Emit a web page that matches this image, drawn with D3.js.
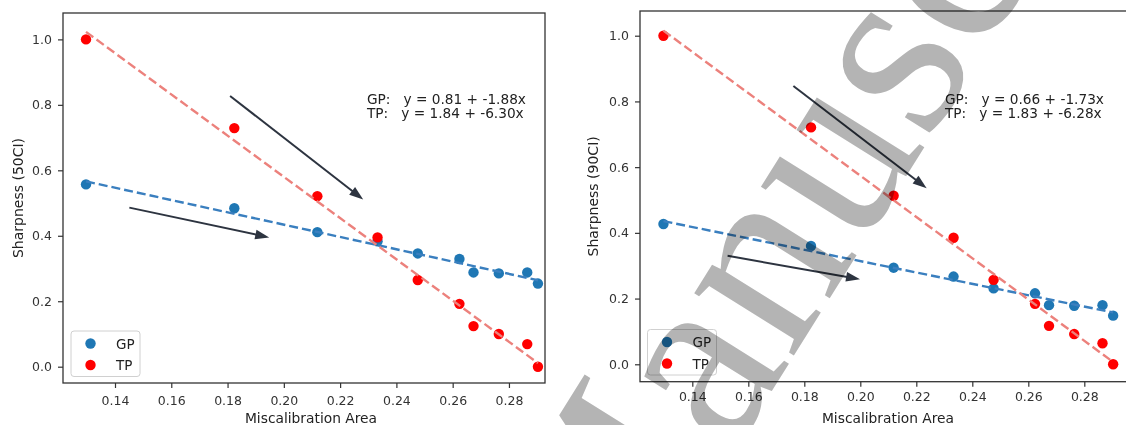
<!DOCTYPE html>
<html>
<head>
<meta charset="utf-8">
<script src="https://cdn.jsdelivr.net/npm/d3@7/dist/d3.min.js"></script>
<style>
  html, body { margin: 0; padding: 0; background: #ffffff; }
  svg { display: block; font-family: "DejaVu Sans", sans-serif; }
  .tick text { fill: #333; }
</style>
</head>
<body>
<svg id="chart" width="1126" height="425"></svg>
<script>
// ---------------- data ----------------
const missArea = [0.1297, 0.1824, 0.2119, 0.2333, 0.2476, 0.2624, 0.2674, 0.2764, 0.2865, 0.2903];
const gp50 = [0.557, 0.484, 0.411, 0.383, 0.346, 0.329, 0.288, 0.285, 0.288, 0.254];
const tp50 = [1.000, 0.729, 0.521, 0.395, 0.265, 0.192, 0.124, 0.100, 0.069, 0.000];
const gp90 = [0.427, 0.360, 0.294, 0.267, 0.231, 0.216, 0.180, 0.178, 0.180, 0.148];
const tp90 = [1.000, 0.721, 0.513, 0.385, 0.257, 0.184, 0.117, 0.092, 0.064, 0.000];
const fitGP50 = [0.81, -1.88];
const fitTP50 = [1.84, -6.30];
const fitGP90 = [0.66, -1.73];
const fitTP90 = [1.83, -6.28];
const eq50 = ["GP:   y = 0.81 + -1.88x", "TP:   y = 1.84 + -6.30x"];
const eq90 = ["GP:   y = 0.66 + -1.73x", "TP:   y = 1.83 + -6.28x"];
const arrows50 = [[0.1809, 0.827, 0.2282, 0.511], [0.1451, 0.486, 0.1948, 0.395]];
const arrows90 = [[0.1761, 0.847, 0.2237, 0.536], [0.1526, 0.330, 0.1999, 0.259]];
const xTicks = [0.14, 0.16, 0.18, 0.20, 0.22, 0.24, 0.26, 0.28];
const yTicks = [0.0, 0.2, 0.4, 0.6, 0.8, 1.0];
const seriesNames = ["GP", "TP"];
const yLabels = ["Sharpness (50CI)", "Sharpness (90CI)"];
const xLabel = "Miscalibration Area";
const watermark = "Manuscript";

// ---------------- style ----------------
const dotColors = {GP: "#1f77b4", TP: "#ff0000"};
const lineColors = {GP: "#3a7fbf", TP: "#ec817c"};
const arrowColor = "#2d3440";
const axisColor = "#333333";

const svg = d3.select("#chart");

function drawPanel(cfg) {
  const x = d3.scaleLinear().domain(cfg.xDom).range([cfg.left, cfg.right]);
  const y = d3.scaleLinear().domain(cfg.yDom).range([cfg.bottom, cfg.top]);
  const g = svg.append("g");

  // axes
  const xa = g.append("g").attr("transform", `translate(0,${cfg.bottom})`)
    .call(d3.axisBottom(x).tickValues(xTicks).tickFormat(d3.format(".2f")).tickSize(5).tickPadding(cfg.xPad));
  const ya = g.append("g").attr("transform", `translate(${cfg.left},0)`)
    .call(d3.axisLeft(y).tickValues(yTicks).tickFormat(d3.format(".1f")).tickSize(5).tickPadding(6));
  [xa, ya].forEach(a => {
    a.select(".domain").remove();
    a.selectAll(".tick line").attr("stroke", axisColor).attr("stroke-width", 1.2);
    a.selectAll(".tick text").attr("font-size", 12.5).attr("font-family", "DejaVu Sans");
  });

  // frame
  g.append("rect")
    .attr("x", cfg.left).attr("y", cfg.top)
    .attr("width", cfg.right - cfg.left).attr("height", cfg.bottom - cfg.top)
    .attr("fill", "none").attr("stroke", axisColor).attr("stroke-width", 1.3);

  // dots
  const series = {GP: cfg.gp, TP: cfg.tp};
  seriesNames.forEach(name => {
    g.append("g").selectAll("circle").data(missArea.map((a, i) => [a, series[name][i]]))
      .join("circle")
      .attr("cx", d => x(d[0])).attr("cy", d => y(d[1]))
      .attr("r", 5.2).attr("fill", dotColors[name]);
  });

  // fit lines
  const fits = {GP: cfg.fitGP, TP: cfg.fitTP};
  const xExt = d3.extent(missArea);
  seriesNames.forEach(name => {
    const f = fits[name];
    const pts = xExt.map(a => [a, f[0] + f[1] * a]);
    g.append("path")
      .attr("d", d3.line().x(d => x(d[0])).y(d => y(d[1]))(pts))
      .attr("fill", "none").attr("stroke", lineColors[name])
      .attr("stroke-width", 2.4).attr("stroke-dasharray", "9,4");
  });

  // arrows
  cfg.arrows.forEach(a => {
    const x1 = x(a[0]), y1 = y(a[1]), x2 = x(a[2]), y2 = y(a[3]);
    const len = Math.hypot(x2 - x1, y2 - y1);
    const ux = (x2 - x1) / len, uy = (y2 - y1) / len;
    const L = 14, hw = 4.8;
    const bx = x2 - ux * L, by = y2 - uy * L;
    g.append("line").attr("x1", x1).attr("y1", y1).attr("x2", bx + ux * 1).attr("y2", by + uy * 1)
      .attr("stroke", arrowColor).attr("stroke-width", 2);
    g.append("path")
      .attr("d", `M${x2},${y2}L${bx - uy * hw},${by + ux * hw}L${bx + uy * hw},${by - ux * hw}Z`)
      .attr("fill", arrowColor);
  });

  // equations
  cfg.eq.forEach((t, i) => {
    g.append("text").attr("x", cfg.eqX).attr("y", cfg.eqY + i * 14)
      .attr("font-size", 13.7).attr("fill", "#222").style("white-space", "pre")
      .text(t);
  });

  // legend
  const lg = g.append("g");
  lg.append("rect").attr("x", cfg.legX).attr("y", cfg.legY).attr("width", 69).attr("height", 45.5)
    .attr("rx", 3).attr("fill", "#ffffff").attr("fill-opacity", 0.85)
    .attr("stroke", "#d0d0d0").attr("stroke-width", 1);
  seriesNames.forEach((name, i) => {
    const cy = cfg.legY + 12.5 + i * 21.5;
    lg.append("circle").attr("cx", cfg.legX + 19.5).attr("cy", cy).attr("r", 5.2).attr("fill", dotColors[name]);
    lg.append("text").attr("x", cfg.legX + 45).attr("y", cy + 5)
      .attr("font-size", 13.5).attr("fill", "#222").text(name);
  });

  // axis labels
  svg.append("text").attr("x", cfg.xLabX).attr("y", 423)
    .attr("text-anchor", "middle").attr("font-size", 13.8).attr("fill", "#222").text(xLabel);
  svg.append("text").attr("transform", `translate(${cfg.yLabX},${(cfg.top + cfg.bottom) / 2}) rotate(-90)`)
    .attr("text-anchor", "middle").attr("dy", "0.35em")
    .attr("font-size", 14).attr("fill", "#222").text(cfg.yLabel);
}

drawPanel({
  left: 63, right: 545, top: 13, bottom: 383,
  xDom: [0.12152, 0.29281], yDom: [-0.0498, 1.0806],
  gp: gp50, tp: tp50, fitGP: fitGP50, fitTP: fitTP50,
  arrows: arrows50, eq: eq50, eqX: 367, eqY: 104,
  legX: 71, legY: 331, xLabX: 311, yLabX: 18, yLabel: yLabels[0], xPad: 8
});
drawPanel({
  left: 640, right: 1130, top: 11, bottom: 381.7,
  xDom: [0.12132, 0.29632], yDom: [-0.053, 1.0752],
  gp: gp90, tp: tp90, fitGP: fitGP90, fitTP: fitTP90,
  arrows: arrows90, eq: eq90, eqX: 945, eqY: 103.5,
  legX: 647.5, legY: 329.5, xLabX: 888, yLabX: 593, yLabel: yLabels[1], xPad: 5.5
});

// publisher watermark over the figure
svg.append("text")
  .attr("transform", "translate(610,650) rotate(-58)")
  .attr("font-family", "Liberation Serif")
  .attr("font-size", 256)
  .attr("fill", "#b4b4b4")
  .style("mix-blend-mode", "multiply")
  .text(watermark);
</script>
</body>
</html>
